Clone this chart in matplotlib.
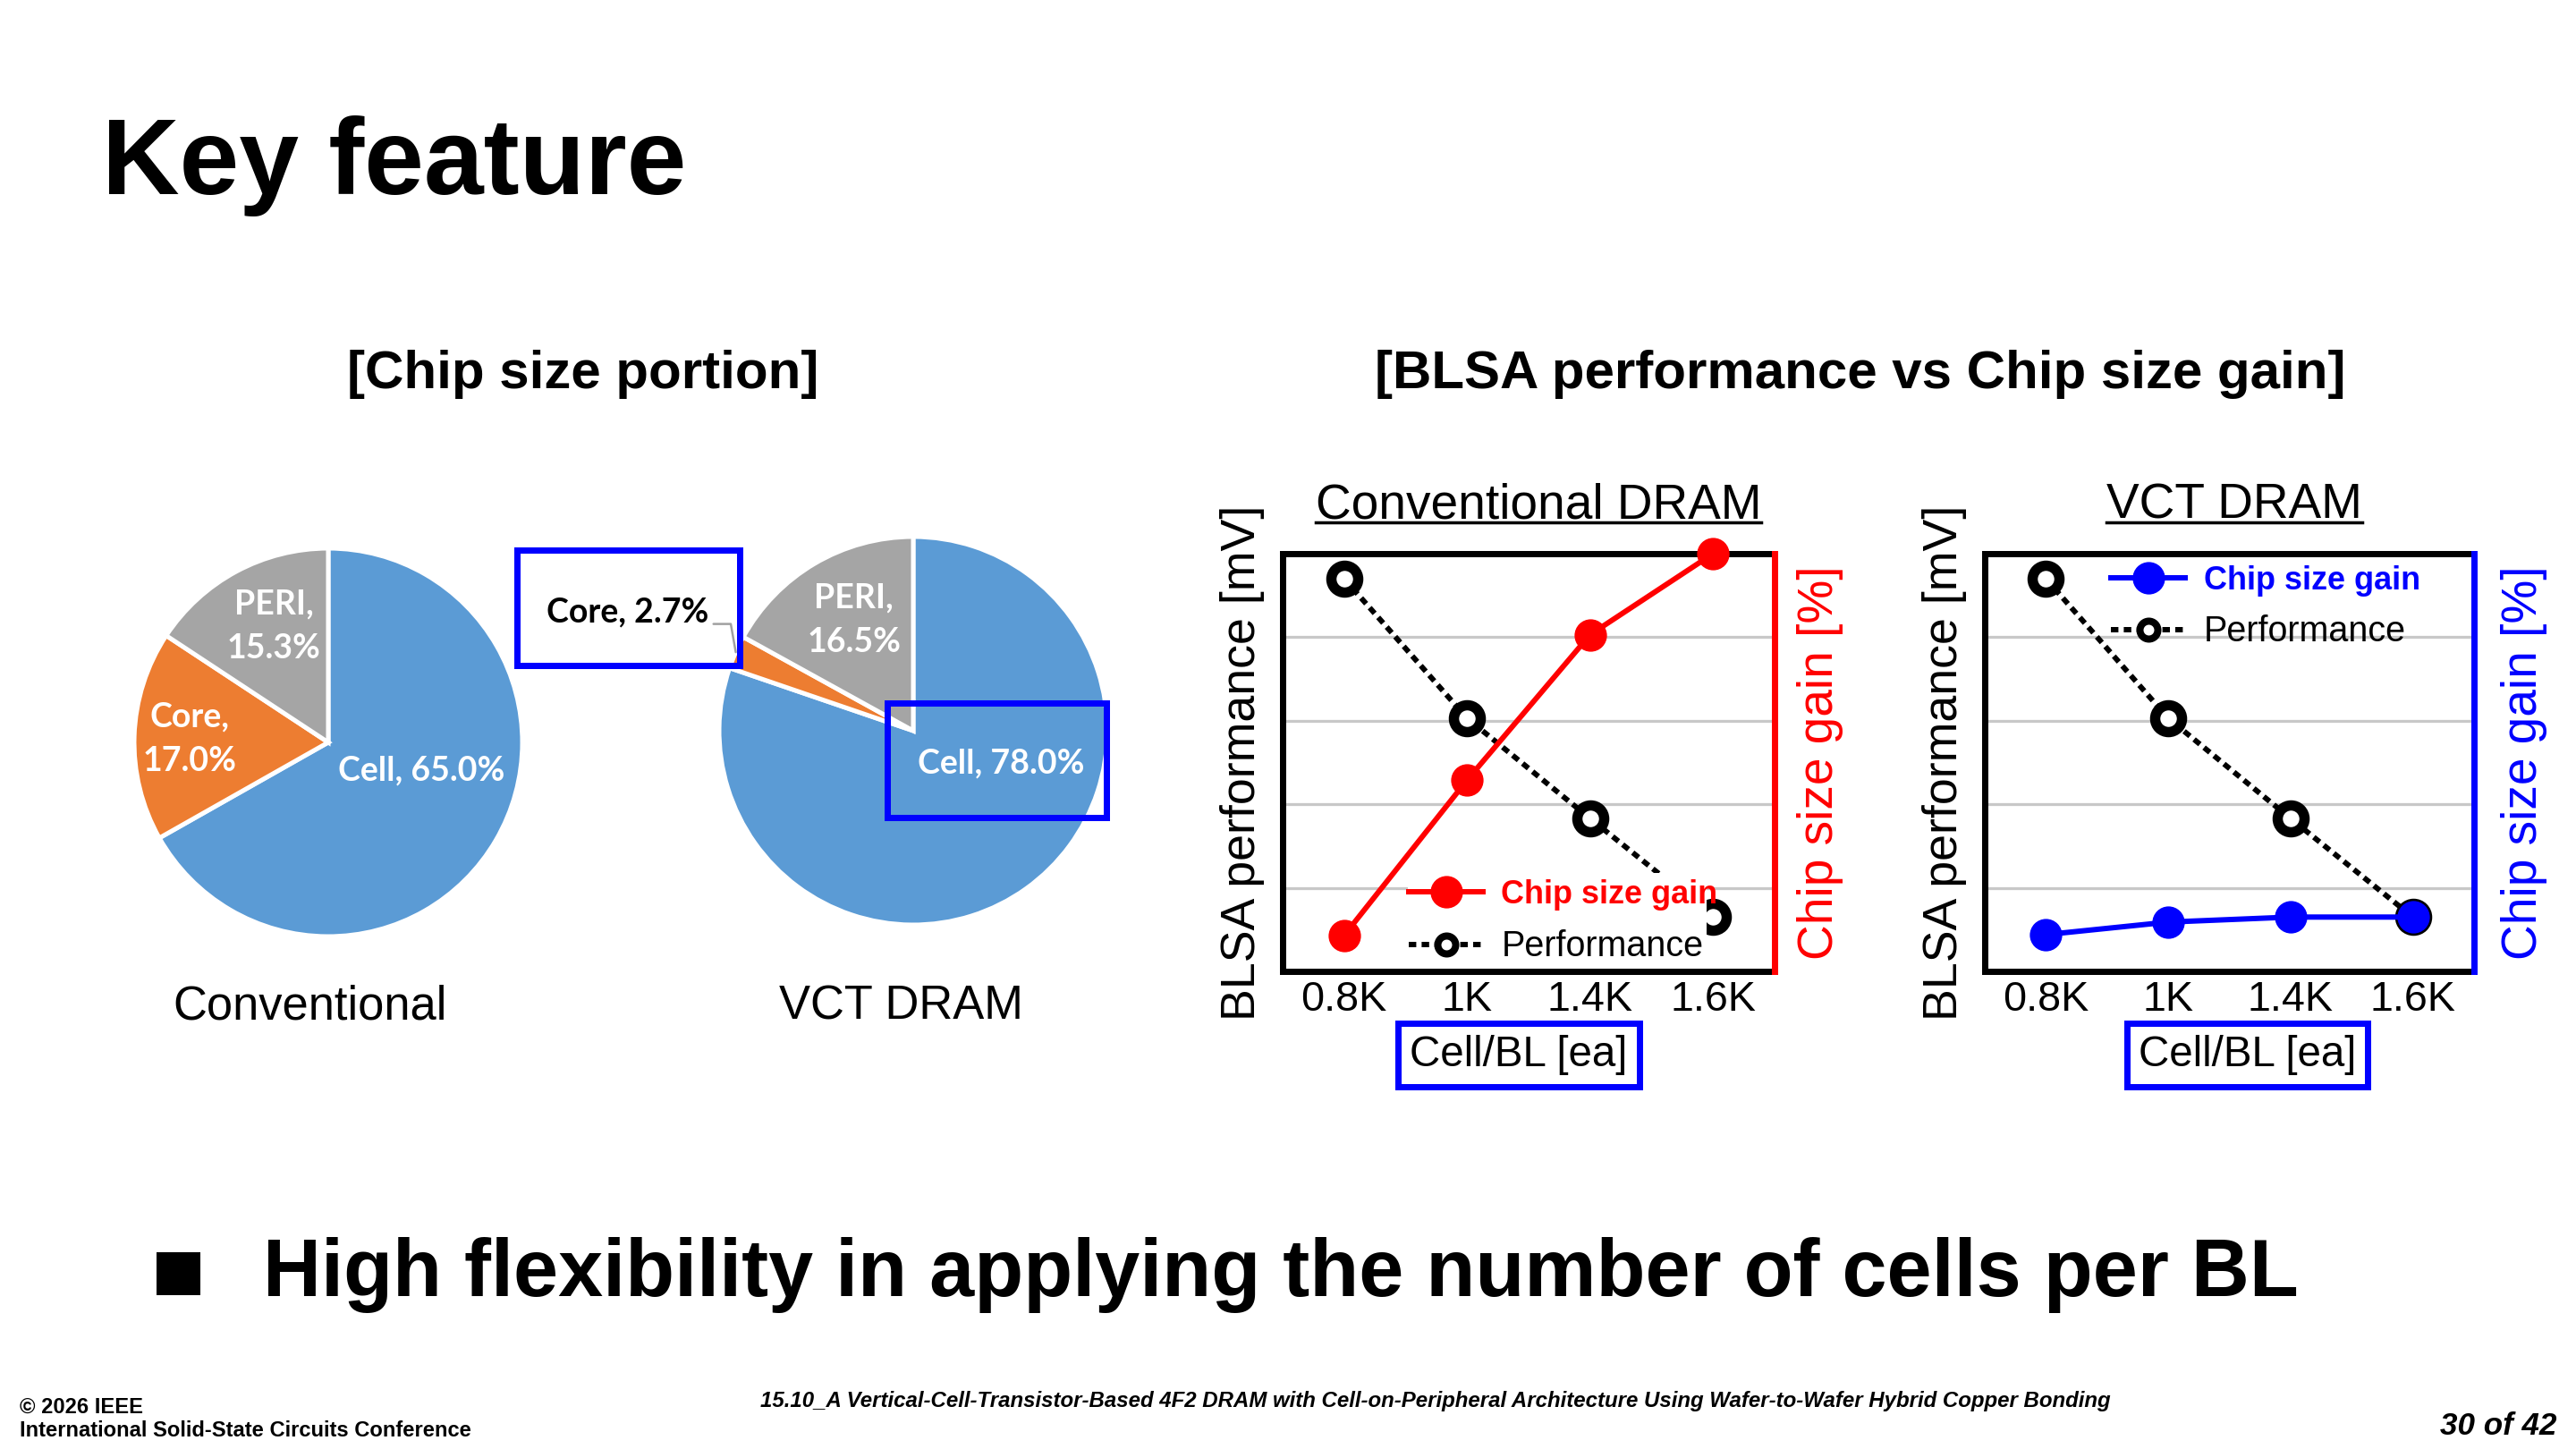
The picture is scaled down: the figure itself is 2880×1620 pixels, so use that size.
import matplotlib
matplotlib.use('Agg')
import matplotlib.pyplot as plt
import numpy as np
from matplotlib.lines import Line2D
from matplotlib.patches import Rectangle

plt.rcParams['font.family'] = ['Liberation Sans', 'DejaVu Sans']

W, H = 2880, 1620
fig = plt.figure(figsize=(16, 9), dpi=180)

# ---------------- data ----------------
pie_parts = ['Cell', 'Core', 'PERI']
conv_share = [65.0, 17.0, 15.3]
vct_share = [78.0, 2.7, 16.5]
pie_colors = ['#5B9BD5', '#ED7D31', '#A5A5A5']

cell_per_bl = ['0.8K', '1K', '1.4K', '1.6K']
conv_perf = [4.70, 3.03, 1.83, 0.65]
conv_gain = [0.43, 2.29, 4.03, 5.00]
vct_perf = [4.70, 3.03, 1.83, 0.65]
vct_gain = [0.44, 0.59, 0.65, 0.65]


def fx(x):
    return x / W


def fy(y):
    return 1 - y / H


def rect_px(x0, y0, x1, y1):
    return [x0 / W, 1 - y1 / H, (x1 - x0) / W, (y1 - y0) / H]


def box_px(x0, y0, x1, y1, lw=2.8):
    fig.add_artist(Rectangle((x0 / W, 1 - y1 / H), (x1 - x0) / W, (y1 - y0) / H,
                             transform=fig.transFigure, fill=False,
                             edgecolor='#0000FF', linewidth=lw, zorder=10))


# ---------------- slide texts ----------------
fig.text(fx(114), fy(217), 'Key feature', fontsize=48, fontweight='bold',
         ha='left', va='baseline')
fig.text(fx(652), fy(434), '[Chip size portion]', fontsize=24, fontweight='bold',
         ha='center', va='baseline')
fig.text(fx(2080), fy(434), '[BLSA performance vs Chip size gain]', fontsize=24,
         fontweight='bold', ha='center', va='baseline')

# ---------------- pies ----------------
pie_font = ['Lato', 'DejaVu Sans']


def draw_pie(cx, cy, r, shares, inside):
    ax = fig.add_axes(rect_px(cx - r, cy - r, cx + r, cy + r))
    wedges, _ = ax.pie(shares, colors=pie_colors, startangle=90, counterclock=False,
                       wedgeprops=dict(edgecolor='white', linewidth=2))
    ax.set_xlim(-1, 1)
    ax.set_ylim(-1, 1)
    ax.set_aspect('equal')
    ax.axis('off')
    for idx, (pos, twoline) in inside.items():
        name = pie_parts[idx]
        val = shares[idx]
        txt = f'{name},\n{val:.1f}%' if twoline else f'{name}, {val:.1f}%'
        ax.text(pos[0], pos[1], txt, color='white', fontsize=15, fontweight='bold',
                family=pie_font, ha='center', va='center', linespacing=1.55)
    return ax, wedges


draw_pie(367, 830, 217, conv_share,
         {0: ((0.48, -0.145), False), 1: ((-0.715, 0.017), True), 2: ((-0.28, 0.60), True)})
ax_v, wedges_v = draw_pie(1021, 817, 217, vct_share,
                          {0: ((0.455, -0.17), False), 2: ((-0.305, 0.57), True)})

# outside label for the small VCT core slice
wc = wedges_v[1]
mid = np.deg2rad((wc.theta1 + wc.theta2) / 2)
ax_v.annotate(f'{pie_parts[1]}, {vct_share[1]:.1f}%', xy=(np.cos(mid), np.sin(mid)),
              xycoords='data', xytext=(fx(702), fy(684)), textcoords='figure fraction',
              fontsize=15, fontweight='bold', family=pie_font, color='black',
              ha='center', va='center', annotation_clip=False,
              arrowprops=dict(arrowstyle='-', color='#A0A0A0', lw=1.0, relpos=(1.0, 0.1),
                              shrinkA=0, shrinkB=0,
                              connectionstyle='angle,angleA=0,angleB=100,rad=0'))

box_px(578, 615, 827, 744)
box_px(992, 786, 1237, 914)

fig.text(fx(347), fy(1139), 'Conventional', fontsize=21, ha='center', va='baseline')
fig.text(fx(1007), fy(1139), 'VCT DRAM', fontsize=21, ha='center', va='baseline')

# ---------------- line panels ----------------
titles = []


def draw_panel(rect, title, title_x, perf, gain, color, legend_kw, cover,
               lpad_left, lpad_right, xlabel_x):
    ax = fig.add_axes(rect)
    x = np.arange(len(cell_per_bl))
    ax.set_xlim(-0.5, len(x) - 0.5)
    ax.set_ylim(0, 5)
    ax.set_yticks([1, 2, 3, 4])
    ax.yaxis.set_ticklabels([])
    ax.tick_params(axis='y', length=0)
    ax.grid(axis='y', color='#C8C8C8', lw=1.3)
    ax.set_axisbelow(True)
    ax.set_xticks(x, cell_per_bl)
    ax.tick_params(axis='x', length=0, pad=4, labelsize=18.7)
    for s in ax.spines.values():
        s.set_linewidth(2.8)
        s.set_color('black')
    ax.plot(x, perf, color='black', lw=2.4, ls=(0, (1.4, 1.0)), marker='o', ms=12,
            mew=4.6, mfc='white', mec='black', clip_on=False, zorder=3)
    ax.set_ylabel('BLSA performance [mV]', fontsize=21.5, labelpad=lpad_left)
    ax.set_xlabel('Cell/BL [ea]', fontsize=19,
                  bbox=dict(boxstyle='square,pad=0.27', fc='white', ec='#0000FF', lw=2.8))
    ax.xaxis.set_label_coords(xlabel_x, -0.152)

    ax2 = ax.twinx()
    ax2.set_ylim(0, 5)
    ax2.set_yticks([])
    for k in ['left', 'top', 'bottom']:
        ax2.spines[k].set_visible(False)
    ax2.spines['right'].set_color(color)
    ax2.spines['right'].set_linewidth(2.8)
    if cover is not None:
        # white legend area (Excel-style legend fill) covering the lines below it
        ax2.add_patch(Rectangle((cover[0], cover[1]), cover[2] - cover[0], cover[3] - cover[1],
                                transform=ax2.transAxes, facecolor='white',
                                edgecolor='none', zorder=4))
    ax2.plot(x, gain, color=color, lw=2.4, marker='o', ms=13.5, clip_on=False, zorder=6)
    ax2.set_ylabel('Chip size gain [%]', fontsize=22, color=color, labelpad=lpad_right)

    handles = [Line2D([], [], color=color, lw=2.4, marker='o', ms=13.5),
               Line2D([], [], color='black', lw=2.4, ls=(0, (1.4, 1.0)), marker='o', ms=8,
                      mew=3.2, mfc='white', mec='black')]
    leg = ax2.legend(handles, ['Chip size gain', 'Performance'], fontsize=15,
                     handlelength=2.2, handletextpad=0.55, labelspacing=0.55,
                     borderpad=0.15, borderaxespad=0, frameon=False, **legend_kw)
    leg.set_zorder(7)
    t0, t1 = leg.get_texts()
    t0.set_color(color)
    t0.set_fontweight('bold')
    t0.set_fontsize(14.4)
    t1.set_fontsize(15.8)

    t = fig.text(fx(title_x), fy(579), title, fontsize=22, ha='center', va='baseline')
    titles.append(t)
    return ax, ax2


draw_panel(rect_px(1434, 619, 1984, 1086), 'Conventional DRAM', 1720,
           conv_perf, conv_gain, '#FF0000',
           dict(loc='lower right', bbox_to_anchor=(0.895, 0.008)),
           (0.255, 0.01, 0.862, 0.235), 4.5, 10, 0.48)
draw_panel(rect_px(2219, 619, 2766, 1086), 'VCT DRAM', 2498,
           vct_perf, vct_gain, '#0000FF',
           dict(loc='upper right', bbox_to_anchor=(0.9, 0.985)), None, 4.5, 12, 0.536)

# underline panel titles
renderer = fig.canvas.get_renderer()
for t in titles:
    bb = t.get_window_extent(renderer)
    fig.add_artist(Line2D([bb.x0 / W, bb.x1 / W], [fy(584), fy(584)],
                          transform=fig.transFigure, color='black', lw=1.4))

# ---------------- bullet ----------------
fig.add_artist(Rectangle((fx(175), fy(1448)), 49 / W, 48 / H, transform=fig.transFigure,
                         facecolor='black', edgecolor='none'))
fig.text(fx(294), fy(1449), 'High flexibility in applying the number of cells per BL',
         fontsize=36, fontweight='bold', ha='left', va='baseline')

# ---------------- footer ----------------
fig.text(fx(22), fy(1580), '\u00a9 2026 IEEE', fontsize=9.5, fontweight='bold',
         ha='left', va='baseline')
fig.text(fx(22), fy(1606), 'International Solid-State Circuits Conference', fontsize=9.5,
         fontweight='bold', ha='left', va='baseline')
fig.text(fx(850), fy(1573),
         '15.10_A Vertical-Cell-Transistor-Based 4F2 DRAM with Cell-on-Peripheral '
         'Architecture Using Wafer-to-Wafer Hybrid Copper Bonding',
         fontsize=9.6, fontweight='bold', fontstyle='italic', ha='left', va='baseline')
fig.text(fx(2858), fy(1604), '30 of 42', fontsize=14, fontweight='bold',
         fontstyle='italic', ha='right', va='baseline')

fig.savefig('out.png', dpi=180)
